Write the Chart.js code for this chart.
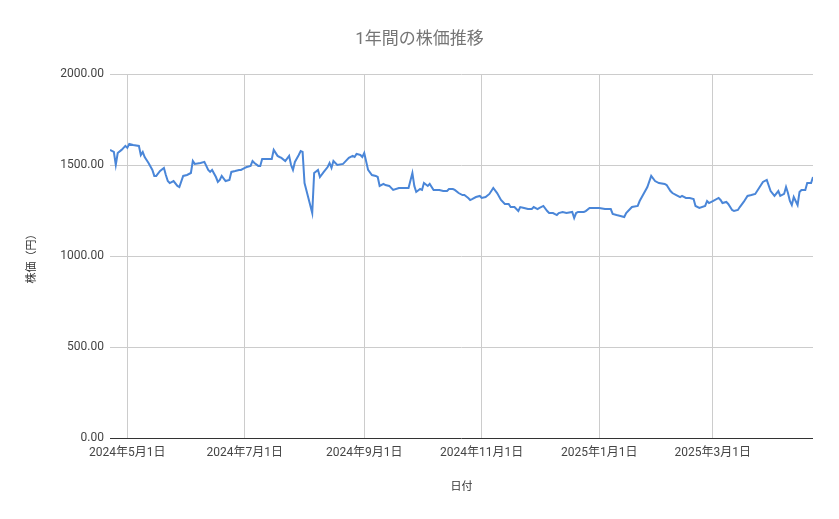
<!DOCTYPE html>
<html><head><meta charset="utf-8">
<script src="https://cdn.jsdelivr.net/npm/chart.js@4"></script>
<style>html,body{margin:0;padding:0;background:#fff}#w{width:839px;height:519px}</style>
</head><body><div id="w"><canvas id="c"></canvas></div>
<script>
// day offsets from 2024-05-01
const days = [-9,-7,-6,-5,-3,-1,0,1,3,6,7,8,9,11,13,14,15,17,19,20,21,22,24,26,27,29,31,33,34,35,38,40,42,43,44,46,47,48,49,51,53,54,56,58,59,61,62,64,65,66,68,69,70,73,75,76,78,79,80,82,84,85,86,87,89,90,91,92,94,96,97,99,100,102,104,105,106,107,109,112,113,115,117,118,119,121,122,123,125,127,129,130,131,133,134,136,138,141,143,145,146,148,149,150,152,153,154,156,157,159,160,162,164,166,167,169,170,172,174,175,177,178,179,181,183,184,186,188,190,192,194,196,198,199,201,203,204,206,208,210,211,213,214,216,218,219,221,223,224,226,228,231,232,233,234,237,238,240,242,245,248,251,252,254,256,258,259,261,262,265,266,268,270,272,274,276,279,280,282,283,285,287,288,290,292,294,295,297,300,301,302,304,307,308,309,311,312,314,315,317,318,320,322,324,326,328,330,332,334,336,338,339,341,342,343,344,345,346,348,349,350,352,353,355,356];
const prices = [1583,1572,1500,1566,1583,1605,1594,1616,1610,1605,1555,1572,1544,1511,1473,1440,1440,1467,1484,1445,1412,1401,1412,1385,1379,1440,1445,1456,1522,1506,1511,1517,1473,1462,1473,1434,1407,1418,1440,1412,1418,1462,1467,1473,1473,1484,1489,1495,1522,1511,1495,1495,1533,1533,1533,1583,1550,1544,1539,1522,1550,1500,1473,1517,1555,1577,1572,1401,1319,1236,1456,1473,1434,1462,1489,1511,1484,1522,1500,1506,1517,1539,1550,1544,1561,1555,1544,1566,1473,1445,1440,1434,1385,1396,1390,1385,1363,1374,1374,1374,1374,1456,1385,1352,1368,1363,1401,1385,1396,1363,1363,1363,1357,1357,1368,1368,1363,1346,1335,1335,1319,1308,1313,1324,1330,1319,1324,1341,1374,1346,1308,1286,1286,1269,1269,1247,1269,1264,1258,1258,1269,1258,1264,1275,1247,1236,1236,1225,1236,1242,1236,1242,1209,1236,1242,1242,1247,1264,1264,1264,1258,1258,1231,1225,1220,1214,1236,1258,1269,1275,1302,1341,1379,1440,1412,1401,1396,1390,1357,1346,1335,1324,1330,1319,1319,1313,1275,1264,1275,1302,1291,1302,1319,1308,1291,1297,1286,1253,1247,1253,1269,1297,1330,1335,1341,1374,1407,1418,1357,1330,1357,1330,1341,1379,1346,1302,1280,1324,1280,1352,1363,1363,1401,1401,1434];
const tickDays = [0,61,123,184,245,304];
const tickLabels = ['2024年5月1日','2024年7月1日','2024年9月1日','2024年11月1日','2025年1月1日','2025年3月1日'];
const yTicks = [0,500,1000,1500,2000];
const font = "Roboto, 'Noto Sans CJK JP', sans-serif";
const titlePlugin = {id:'t',afterDraw(c){const x=c.ctx;x.save();x.font="17px "+font;x.fillStyle='#757575';x.textAlign='center';x.textBaseline='middle';x.fillText('1年間の株価推移',419.5,40);x.restore();}};
new Chart(document.getElementById('c'),{
type:'line',
data:{datasets:[{data:days.map((d,i)=>({x:d,y:prices[i]})),borderColor:'#4a86d8',borderWidth:2,pointRadius:0,tension:0,fill:false}]},
options:{responsive:true,maintainAspectRatio:false,animation:false,
layout:{padding:{top:74,right:26,left:26,bottom:25}},
plugins:{legend:{display:false},tooltip:{enabled:false}},
scales:{
x:{type:'linear',min:-9,max:356,
afterBuildTicks(s){s.ticks=tickDays.map(v=>({value:v}));},
afterFit(s){s.height=56;},
ticks:{autoSkip:false,maxRotation:0,color:'#444',font:{size:12,family:font},padding:8,callback:(v)=>{const i=tickDays.indexOf(v);return i>=0?tickLabels[i]:'';}},
grid:{color:'#cccccc',drawTicks:false},border:{display:false},
title:{display:true,text:'日付',color:'#333',font:{size:11,family:font},padding:0}},
y:{min:0,max:2000,
afterBuildTicks(s){s.ticks=yTicks.map(v=>({value:v}));},
afterFit(s){s.width=84;},
ticks:{color:'#444',font:{size:12,family:font},padding:6,callback:v=>v.toFixed(2)},
grid:{color:(c)=>c.tick&&c.tick.value===0?'#333':'#cccccc',drawTicks:false},border:{display:false},
title:{display:true,text:'株価（円）',color:'#333',font:{size:11,family:font},padding:0}}
}},plugins:[titlePlugin]});
</script></body></html>
